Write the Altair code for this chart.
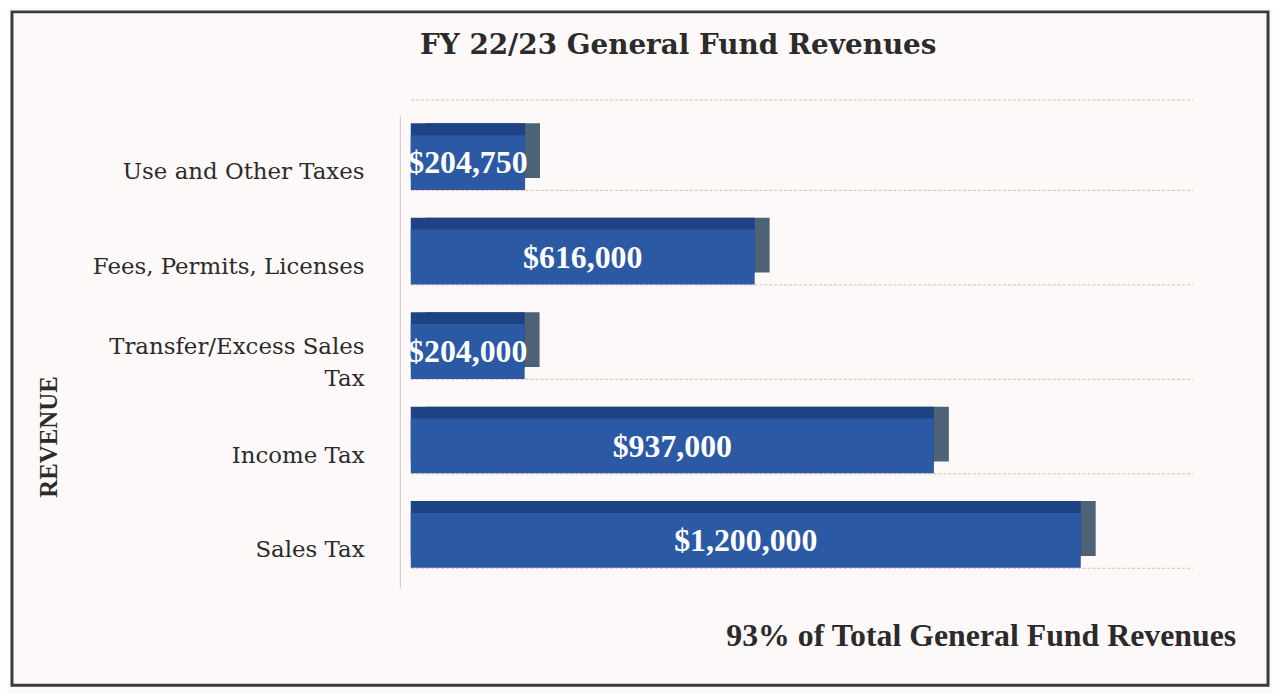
import altair as alt
import pandas as pd

categories = ["Use and Other Taxes", "Fees, Permits, Licenses", "Transfer/Excess Sales Tax", "Income Tax", "Sales Tax"]
values = [204750, 616000, 204000, 937000, 1200000]

title_text = "FY 22/23 General Fund Revenues"
note_text = "93% of Total General Fund Revenues"
axis_title = "REVENUE"

df = pd.DataFrame({"cat": categories, "val": values})

FRONT = "#2b59a4"
TOP = "#1e4382"
SIDE = "#4e6276"
GRID = "#e8b4ae"
INK = "#2b2b2b"

y_enc = alt.Y(
    "cat:N",
    sort=categories,
    scale=alt.Scale(paddingInner=0.42, paddingOuter=0.21),
    axis=alt.Axis(
        title=axis_title,
        titleFont="Liberation Serif",
        titleFontSize=25,
        titleFontWeight="bold",
        titleColor=INK,
        titleAngle=270,
        titleAlign="center",
        titleBaseline="middle",
        titleX=-353,
        titleY=323,
        labelFont="DejaVu Serif",
        labelFontSize=23,
        labelColor=INK,
        labelLimit=0,
        labelPadding=36,
        labelOffset={"condition": {"test": "datum.value == 'Transfer/Excess Sales Tax'", "value": -4}, "value": 10},
        labelLineHeight=32,
        labelExpr="datum.value == 'Transfer/Excess Sales Tax' ? ['Transfer/Excess Sales', 'Tax'] : datum.value",
        ticks=False,
        offset=11,
        domainColor="#d9c4c4",
        domainWidth=1,
        grid=True,
        bandPosition=1,
        gridColor=GRID,
        gridDash=[3, 2],
        gridWidth=1,
    ),
)

x_enc = alt.X(
    "val:Q",
    scale=alt.Scale(domain=[0, 1400000], nice=False),
    axis=alt.Axis(
        orient="top", title=None, labels=False, ticks=False, grid=False,
        domain=True, domainColor=GRID, domainDash=[3, 2], offset=16,
    ),
)

base = alt.Chart(df)

frame = alt.Chart(alt.Data(values=[{"k": 1}])).mark_rect(
    filled=False, stroke="#3a3a3a", strokeWidth=3
).encode(
    x=alt.value(-401), x2=alt.value(862), y=alt.value(-104), y2=alt.value(573)
)

side = base.mark_bar(color=SIDE, xOffset=15, x2Offset=15, yOffset=-12).encode(x=x_enc, y=y_enc)
top = base.mark_bar(color=TOP, xOffset=0, x2Offset=15, yOffset=-12).encode(x=x_enc, y=y_enc)
front = base.mark_bar(color=FRONT).encode(x=x_enc, y=y_enc)

labels = base.transform_calculate(mid="datum.val / 2").mark_text(
    font="Liberation Serif", fontSize=32, fontWeight="bold", color="white",
    align="center", baseline="middle", dy=1
).encode(
    x=alt.X("mid:Q"),
    y=alt.Y("cat:N", sort=categories),
    text=alt.Text("val:Q", format="$,.0f"),
)

note = alt.Chart(alt.Data(values=[{"k": 1}])).mark_text(
    text=note_text, font="Liberation Serif", fontSize=32, fontWeight="bold",
    color=INK, align="right", baseline="alphabetic"
).encode(x=alt.value(830), y=alt.value(534))

chart = alt.layer(frame, side, top, front, labels, note).properties(
    width=786,
    height=475,
    padding={"left": 405, "top": 106, "right": 80, "bottom": 105},
    autosize=alt.AutoSizeParams(type="none"),
    title=alt.TitleParams(
        title_text, font="DejaVu Serif", fontSize=28, fontWeight="bold",
        color=INK, anchor="middle", dx=-124, offset=-78, baseline="bottom"
    ),
).configure(background="#fdf9f9").configure_view(stroke=None)

chart.save("out.html", embed_options={"renderer": "svg", "actions": False})
